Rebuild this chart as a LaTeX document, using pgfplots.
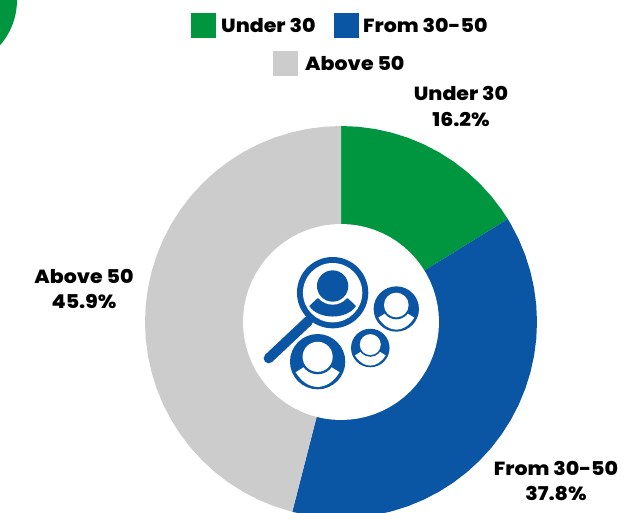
\documentclass[border=0pt]{standalone}
\usepackage{fontspec}
\setmainfont{Poppins}[BoldFont={Poppins ExtraBold},BoldFeatures={FakeStretch=1.08}]
\usepackage{pgfplots}
\pgfplotsset{compat=1.18}
\definecolor{cg}{HTML}{009640}
\definecolor{cb}{HTML}{0B55A5}
\definecolor{cy}{HTML}{CCCCCC}
\newcommand{\person}[3]{%
  \begin{scope}[shift={(#1,#2)},scale=#3]
    \fill[cb] (0,0) circle[radius=68];
    \fill[white] (-54,26) -- (-30,11) -- (30,11) -- (54,26) .. controls (38,52) and (18,62) .. (0,62) .. controls (-18,62) and (-38,52) .. (-54,26) -- cycle;
    \fill[cb] (0,-12) circle[radius=43];
    \fill[white] (0,-12) circle[radius=37];
  \end{scope}}
\begin{document}
\begin{tikzpicture}
% Under 30 16.2%, From 30-50 37.8%, Above 50 45.9%, drawn clockwise from 90 degrees; radius 196
\begin{axis}[at={(0,0)},anchor=south west,scale only axis,width=633pt,height=513pt,
  xmin=-341,xmax=292,ymin=-191,ymax=322,hide axis]
\addplot[data cs=polar,fill=cg,draw=none] coordinates {(0,0) (90,196) (85,196) (80,196) (75,196) (70,196) (65,196) (60,196) (55,196) (50,196) (45,196) (40,196) (35,196) (31.68,196)};
\addplot[data cs=polar,fill=cb,draw=none] coordinates {(0,0) (31.68,196) (30,196) (25,196) (20,196) (15,196) (10,196) (5,196) (0,196) (-5,196) (-10,196) (-15,196) (-20,196) (-25,196) (-30,196) (-35,196) (-40,196) (-45,196) (-50,196) (-55,196) (-60,196) (-65,196) (-70,196) (-75,196) (-80,196) (-85,196) (-90,196) (-95,196) (-100,196) (-104.4,196)};
\addplot[data cs=polar,fill=cy,draw=none] coordinates {(0,0) (255.6,196) (250,196) (245,196) (240,196) (235,196) (230,196) (225,196) (220,196) (215,196) (210,196) (205,196) (200,196) (195,196) (190,196) (185,196) (180,196) (175,196) (170,196) (165,196) (160,196) (155,196) (150,196) (145,196) (140,196) (135,196) (130,196) (125,196) (120,196) (115,196) (110,196) (105,196) (100,196) (95,196) (90,196)};
\addplot[data cs=polar,fill=white,draw=none] coordinates {(0,98) (5,98) (10,98) (15,98) (20,98) (25,98) (30,98) (35,98) (40,98) (45,98) (50,98) (55,98) (60,98) (65,98) (70,98) (75,98) (80,98) (85,98) (90,98) (95,98) (100,98) (105,98) (110,98) (115,98) (120,98) (125,98) (130,98) (135,98) (140,98) (145,98) (150,98) (155,98) (160,98) (165,98) (170,98) (175,98) (180,98) (185,98) (190,98) (195,98) (200,98) (205,98) (210,98) (215,98) (220,98) (225,98) (230,98) (235,98) (240,98) (245,98) (250,98) (255,98) (260,98) (265,98) (270,98) (275,98) (280,98) (285,98) (290,98) (295,98) (300,98) (305,98) (310,98) (315,98) (320,98) (325,98) (330,98) (335,98) (340,98) (345,98) (350,98) (355,98)};
\end{axis}
% pixel coordinates of the reference
\begin{scope}[x=1pt,y=-1pt,shift={(0,-513)},font=\bfseries\fontsize{19}{19}\selectfont]
  \begin{scope}
    \clip (0,0) rectangle (633,513);
    \fill[cg] (-52,0) circle[radius=69];
  \end{scope}
  \fill[cg] (191,13) rectangle (216,38);
  \fill[cb] (334,13) rectangle (359,38);
  \fill[cy] (273,51) rectangle (298,76);
  \node[anchor=base west,inner sep=0] at (221,33) {Under 30};
  \node[anchor=base west,inner sep=0] at (363,33) {From 30-50};
  \node[anchor=base west,inner sep=0] at (305,71) {Above 50};
  \node[anchor=base,inner sep=0] at (461,101) {Under 30};
  \node[anchor=base,inner sep=0] at (461,127) {16.2\%};
  \node[anchor=base,inner sep=0] at (84,284) {Above 50};
  \node[anchor=base,inner sep=0] at (84,309) {45.9\%};
  \node[anchor=base,inner sep=0] at (556,476) {From 30-50};
  \node[anchor=base,inner sep=0] at (556,501) {37.8\%};
\end{scope}
% icon, in coordinates of a 3x crop at (240,220)
\begin{scope}[x=0.3333pt,y=-0.3333pt,shift={(720,-1539+660)}]
  \draw[cb,line width=10pt,line cap=round] (205,303) -- (86,415);
  \fill[cb] (278,218) circle[radius=107];
  \fill[white] (278,218) circle[radius=89];
  \fill[cb] (208,258) -- (232,235) -- (324,235) -- (348,258) .. controls (321,300) and (235,300) .. (208,258) -- cycle;
  \fill[white] (278,198) circle[radius=56];
  \fill[cb] (278,198) circle[radius=47];
  \person{469}{267}{1}
  \person{233}{425}{1.22}
  \person{391}{384}{0.85}
\end{scope}
\end{tikzpicture}
\end{document}
